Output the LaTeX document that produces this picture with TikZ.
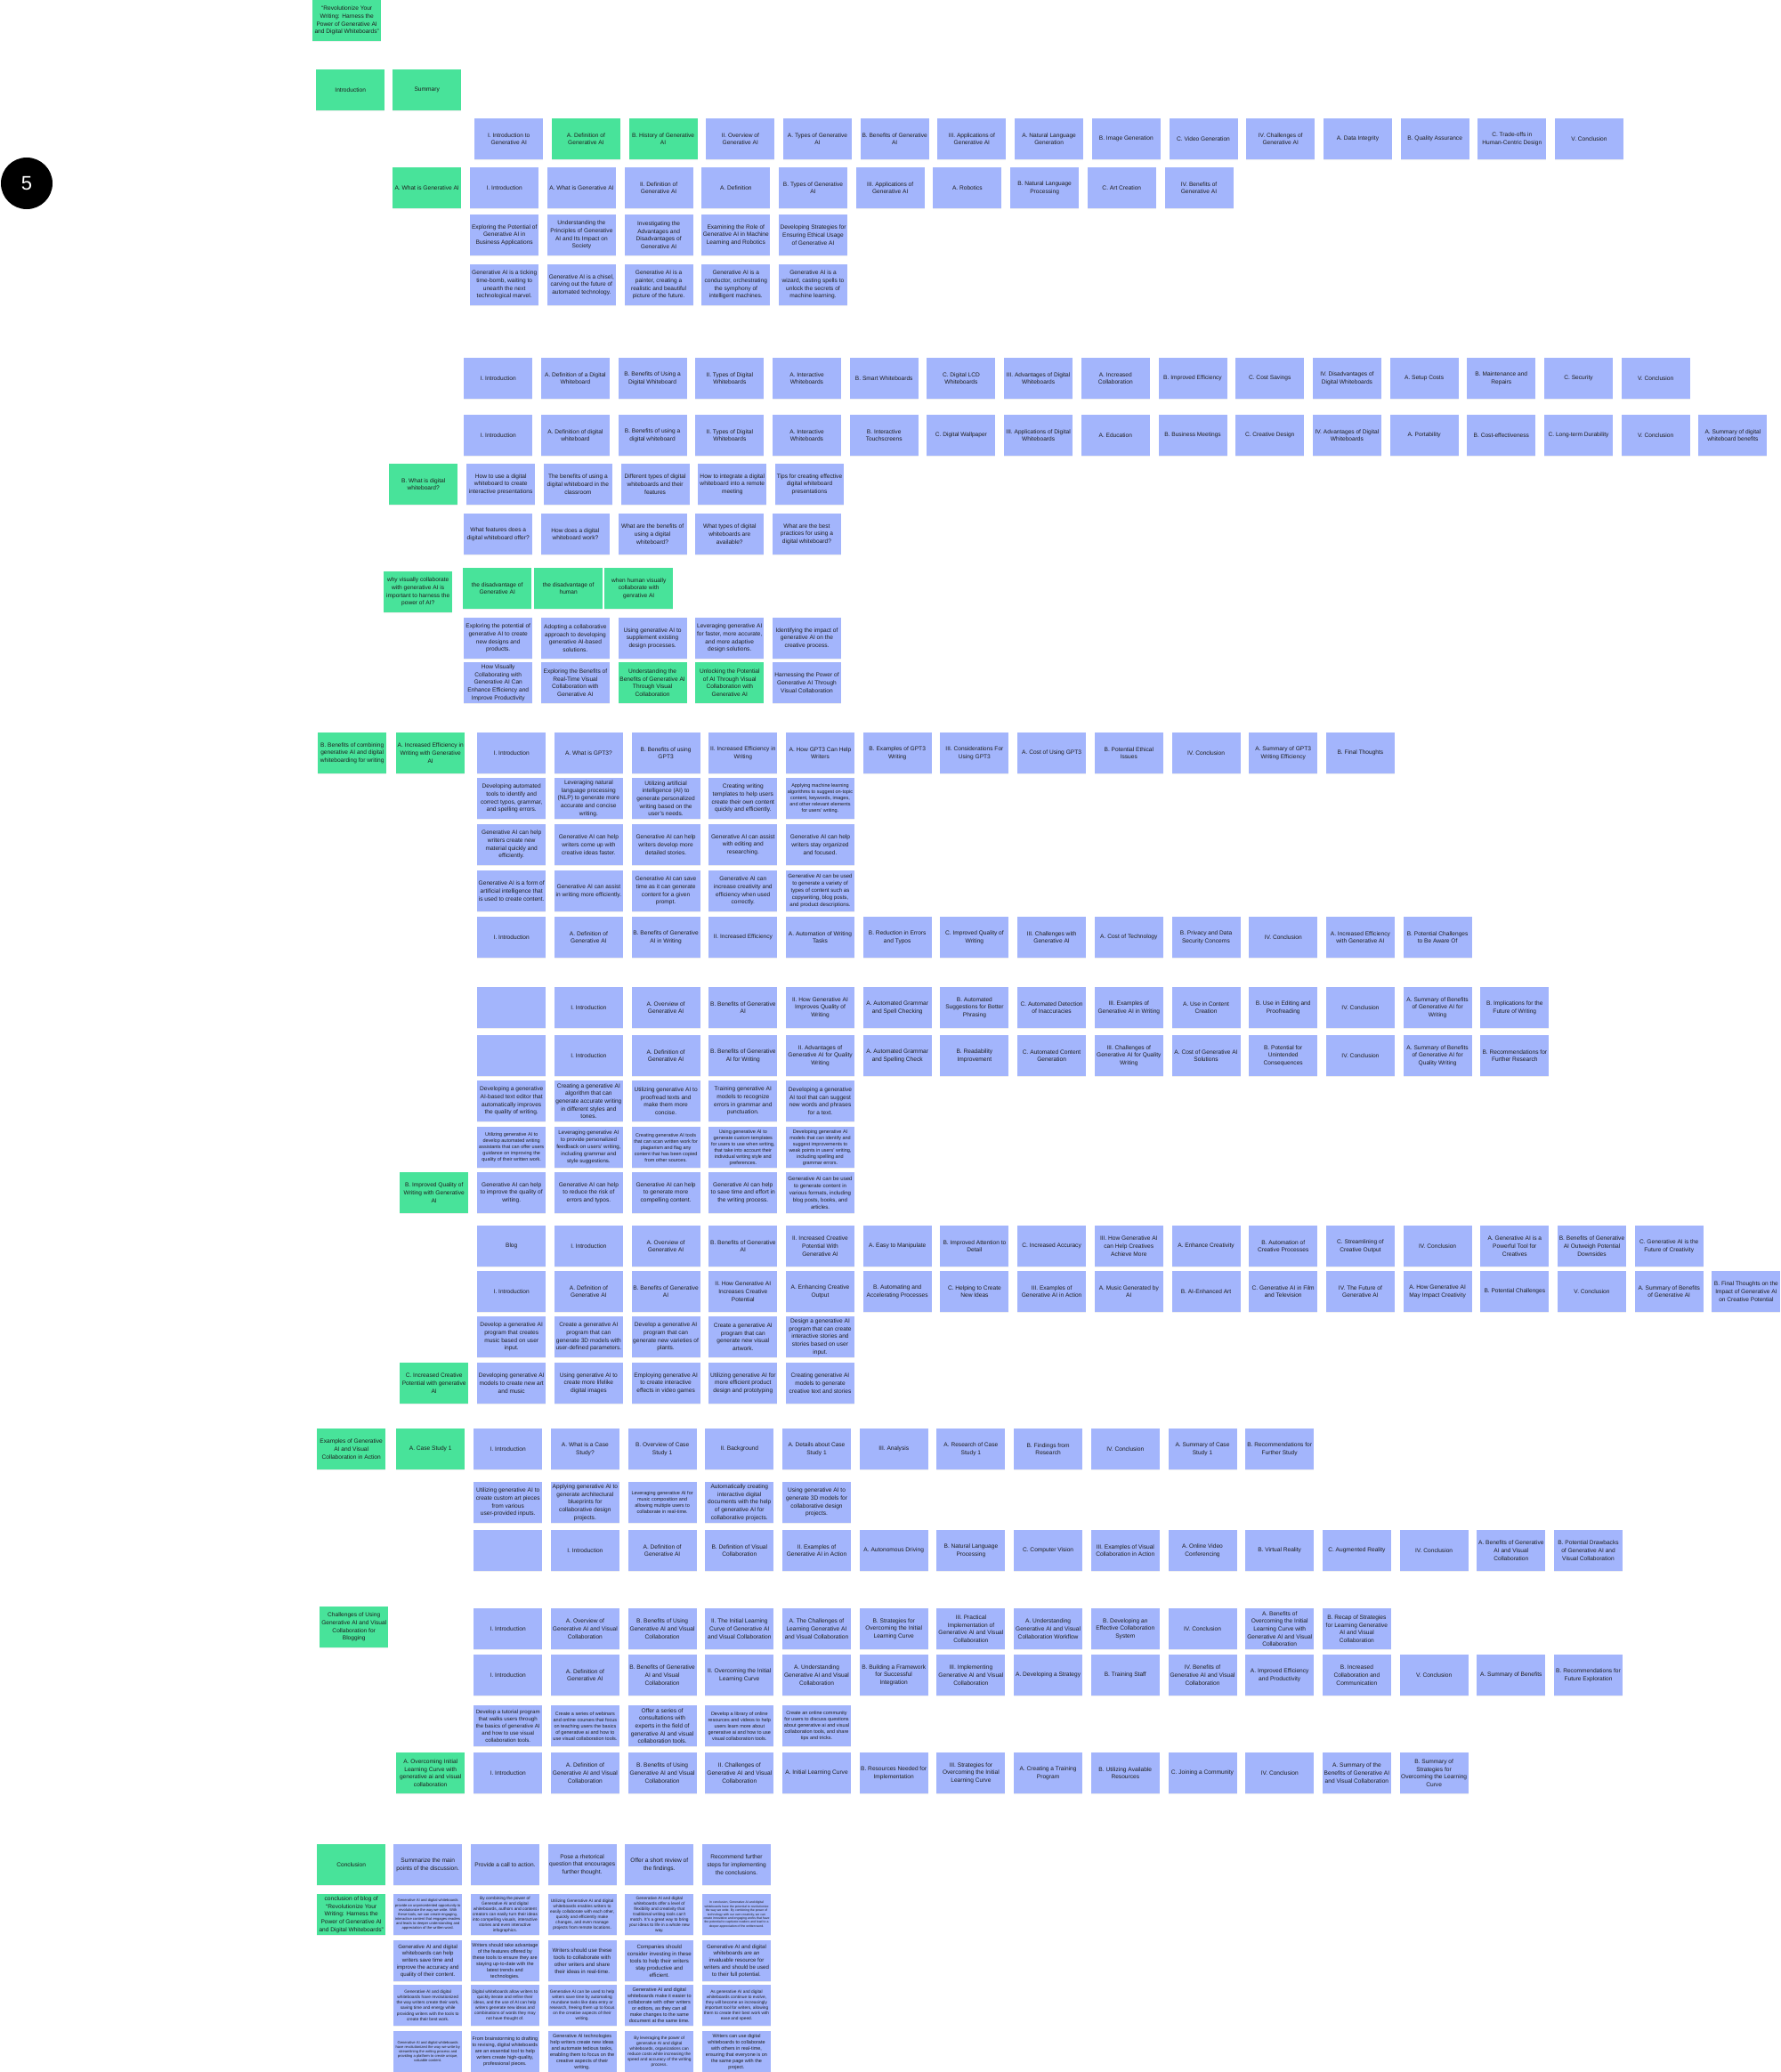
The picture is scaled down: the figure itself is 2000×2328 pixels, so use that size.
\documentclass[tikz,border=0pt]{standalone}
\usepackage{fontspec}
\setmainfont{Liberation Sans}
\usepackage{tikz}
\usetikzlibrary{shadows}
\definecolor{stickyblue}{HTML}{A3B5FC}
\definecolor{stickygreen}{HTML}{48E39A}
\definecolor{stickyink}{HTML}{1E1E1E}
\newcommand\colstep{86.7}
\tikzset{
  fsA/.style={font=\fontsize{6.6}{8.7}\selectfont\hyphenpenalty10000\relax},
  fsB/.style={font=\fontsize{6.1}{7.9}\selectfont\hyphenpenalty10000\relax},
  fsC/.style={font=\fontsize{5.5}{7}\selectfont\hyphenpenalty10000\relax},
  fsD/.style={font=\fontsize{4.8}{6.1}\selectfont\hyphenpenalty10000\relax},
  fsE/.style={font=\fontsize{4.1}{5.1}\selectfont\hyphenpenalty10000\relax},
  fsF/.style={font=\fontsize{3.5}{4.4}\selectfont\hyphenpenalty10000\relax},
  sticky/.style={anchor=north west, minimum width=77pt, minimum height=46pt,
    text width=74pt, inner xsep=1.5pt, inner ysep=0pt, align=flush center,
    text=stickyink, fsA,
    drop shadow={shadow xshift=0pt, shadow yshift=-1pt, opacity=.12}},
  blue sticky/.style={sticky, fill=stickyblue},
  green sticky/.style={sticky, fill=stickygreen},
}

\begin{document}
\begin{tikzpicture}[x=1pt,y=-1pt]
\fill[white] (0,0) rectangle (2000,2328);
\useasboundingbox (0,0) rectangle (2000,2328);
\node[circle, fill=black, minimum size=58pt, inner sep=0pt, text=white,
  font=\fontsize{22}{26}\selectfont] (pagemark) at (30,206) {5};

\node[green sticky] (title) at (351,0) {“Revolutionize Your Writing: Harness the Power of Generative AI and Digital Whiteboards”};
\node[green sticky] (intro) at (355,78) {Introduction};
\node[green sticky] (summary) at (441,78) {Summary};

\node[blue sticky] (gen1-0) at (533,133) {I. Introduction to Generative AI};
\foreach \txt [count=\i from 1] in {A. Definition of Generative AI, B. History of Generative AI}
  \node[green sticky] (gen1-\i) at (533+\i*\colstep,133) {\txt};
\foreach \txt [count=\i from 3] in {II. Overview of Generative AI, A. Types of Generative AI,
  B. Benefits of Generative AI, III. Applications of Generative AI, A. Natural Language Generation,
  B. Image Generation, C. Video Generation, IV. Challenges of Generative AI, A. Data Integrity,
  B. Quality Assurance, C. Trade-offs in Human-Centric Design, V. Conclusion}
  \node[blue sticky] (gen1-\i) at (533+\i*\colstep,133) {\txt};
\node[green sticky] (whatis) at (441,188) {A. What is Generative AI};
\foreach \txt [count=\i from 0] in {I. Introduction, A. What is Generative AI,
  II. Definition of Generative AI, A. Definition, B. Types of Generative AI,
  III. Applications of Generative AI, A. Robotics, B. Natural Language Processing,
  C. Art Creation, IV. Benefits of Generative AI}
  \node[blue sticky] (gen2-\i) at (528+\i*\colstep,188) {\txt};
\foreach \txt [count=\i from 0] in {Exploring the Potential of Generative AI in Business Applications,
  Understanding the Principles of Generative AI and Its Impact on Society,
  Investigating the Advantages and Disadvantages of Generative AI,
  Examining the Role of Generative AI in Machine Learning and Robotics,
  Developing Strategies for Ensuring Ethical Usage of Generative AI}
  \node[blue sticky] (gen3-\i) at (528+\i*\colstep,241) {\txt};
\foreach \txt [count=\i from 0] in {{Generative AI is a ticking time-bomb, waiting to unearth the next technological marvel.},
  {Generative AI is a chisel, carving out the future of automated technology.},
  {Generative AI is a painter, creating a realistic and beautiful picture of the future.},
  {Generative AI is a conductor, orchestrating the symphony of intelligent machines.},
  {Generative AI is a wizard, casting spells to unlock the secrets of machine learning.}}
  \node[blue sticky] (gen4-\i) at (528+\i*\colstep,297) {\txt};

\foreach \txt [count=\i from 0] in {I. Introduction, A. Definition of a Digital Whiteboard,
  B. Benefits of Using a Digital Whiteboard, II. Types of Digital Whiteboards,
  A. Interactive Whiteboards, B. Smart Whiteboards, C. Digital LCD Whiteboards,
  III. Advantages of Digital Whiteboards, A. Increased Collaboration, B. Improved Efficiency,
  C. Cost Savings, IV. Disadvantages of Digital Whiteboards, A. Setup Costs,
  B. Maintenance and Repairs, C. Security, V. Conclusion}
  \node[blue sticky] (board1-\i) at (521+\i*\colstep,402) {\txt};
\foreach \txt [count=\i from 0] in {I. Introduction, A. Definition of digital whiteboard,
  B. Benefits of using a digital whiteboard, II. Types of Digital Whiteboards,
  A. Interactive Whiteboards, B. Interactive Touchscreens, C. Digital Wallpaper,
  III. Applications of Digital Whiteboards, A. Education, B. Business Meetings,
  C. Creative Design, IV. Advantages of Digital Whiteboards, A. Portability,
  B. Cost-effectiveness, C. Long-term Durability, V. Conclusion,
  A. Summary of digital whiteboard benefits}
  \node[blue sticky] (board2-\i) at (521+\i*\colstep,466) {\txt};
\node[green sticky] (whatboard) at (437,521) {B. What is digital whiteboard?};
\foreach \txt [count=\i from 0] in {How to use a digital whiteboard to create interactive presentations,
  The benefits of using a digital whiteboard in the classroom,
  Different types of digital whiteboards and their features,
  How to integrate a digital whiteboard into a remote meeting,
  Tips for creating effective digital whiteboard presentations}
  \node[blue sticky] (board3-\i) at (524+\i*\colstep,521) {\txt};
\foreach \txt [count=\i from 0] in {What features does a digital whiteboard offer?,
  How does a digital whiteboard work?, What are the benefits of using a digital whiteboard?,
  What types of digital whiteboards are available?,
  What are the best practices for using a digital whiteboard?}
  \node[blue sticky] (board4-\i) at (521+\i*\colstep,577) {\txt};
\node[green sticky] (whyvisual) at (431,642) {why visually collaborate with generative AI is important to harness the power of AI?};
\node[green sticky] (disai) at (520,638) {the disadvantage of Generative AI};
\node[green sticky] (dishuman) at (600,638) {the disadvantage of human};
\node[green sticky] (whenhuman) at (679,638) {when human visually collaborate with genrative AI};
\foreach \txt [count=\i from 0] in {Exploring the potential of generative AI to create new designs and products.,
  Adopting a collaborative approach to developing generative AI-based solutions.,
  Using generative AI to supplement existing design processes.,
  {Leveraging generative AI for faster, more accurate, and more adaptive design solutions.},
  Identifying the impact of generative AI on the creative process.}
  \node[blue sticky] (board6-\i) at (521+\i*\colstep,694) {\txt};
\foreach \txt [count=\i from 0] in {How Visually Collaborating with Generative AI Can Enhance Efficiency and Improve Productivity,
  Exploring the Benefits of Real-Time Visual Collaboration with Generative AI}
  \node[blue sticky] (board7-\i) at (521+\i*\colstep,744) {\txt};
\foreach \txt [count=\i from 2] in {Understanding the Benefits of Generative AI Through Visual Collaboration,
  Unlocking the Potential of AI Through Visual Collaboration with Generative AI}
  \node[green sticky] (board7-\i) at (521+\i*\colstep,744) {\txt};
\node[blue sticky] (board7-4) at (521+4*\colstep,744) {Harnessing the Power of Generative AI Through Visual Collaboration};

\node[green sticky] (combining) at (357,823) {B. Benefits of combining generative AI and digital whiteboarding for writing};
\node[green sticky] (efficiency) at (445,823) {A. Increased Efficiency in Writing with Generative AI};
\foreach \txt [count=\i from 0] in {I. Introduction, A. What is GPT3?, B. Benefits of using GPT3,
  II. Increased Efficiency in Writing, A. How GPT3 Can Help Writers, B. Examples of GPT3 Writing,
  III. Considerations For Using GPT3, A. Cost of Using GPT3, B. Potential Ethical Issues,
  IV. Conclusion, A. Summary of GPT3 Writing Efficiency, B. Final Thoughts}
  \node[blue sticky] (gpt1-\i) at (536+\i*\colstep,823) {\txt};
\foreach \fs/\txt [count=\i from 0] in {fsA/{Developing automated tools to identify and correct typos, grammar, and spelling errors.},
  fsA/{Leveraging natural language processing (NLP) to generate more accurate and concise writing.},
  fsA/{Utilizing artificial intelligence (AI) to generate personalized writing based on the user's needs.},
  fsA/{Creating writing templates to help users create their own content quickly and efficiently.},
  fsC/{Applying machine learning algorithms to suggest on-topic content, keywords, images, and other relevant elements for users' writing.}}
  \node[blue sticky, \fs] (gpt2-\i) at (536+\i*\colstep,874) {\txt};
\foreach \txt [count=\i from 0] in {Generative AI can help writers create new material quickly and efficiently.,
  Generative AI can help writers come up with creative ideas faster.,
  Generative AI can help writers develop more detailed stories.,
  Generative AI can assist with editing and researching.,
  Generative AI can help writers stay organized and focused.}
  \node[blue sticky] (gpt3-\i) at (536+\i*\colstep,926) {\txt};
\foreach \fs/\txt [count=\i from 0] in {fsA/{Generative AI is a form of artificial intelligence that is used to create content.},
  fsA/{Generative AI can assist in writing more efficiently.},
  fsA/{Generative AI can save time as it can generate content for a given prompt.},
  fsA/{Generative AI can increase creativity and efficiency when used correctly.},
  fsB/{Generative AI can be used to generate a variety of types of content such as copywriting, blog posts, and product descriptions.}}
  \node[blue sticky, \fs] (gpt4-\i) at (536+\i*\colstep,978) {\txt};
\foreach \txt [count=\i from 0] in {I. Introduction, A. Definition of Generative AI,
  B. Benefits of Generative AI in Writing, II. Increased Efficiency, A. Automation of Writing Tasks,
  B. Reduction in Errors and Typos, C. Improved Quality of Writing, III. Challenges with Generative AI,
  A. Cost of Technology, B. Privacy and Data Security Concerns, IV. Conclusion,
  A. Increased Efficiency with Generative AI, B. Potential Challenges to Be Aware Of}
  \node[blue sticky] (gpt5-\i) at (536+\i*\colstep,1030) {\txt};

\node[blue sticky] (quality1-0) at (536,1109) {};
\foreach \txt [count=\i from 1] in {I. Introduction, A. Overview of Generative AI,
  B. Benefits of Generative AI, II. How Generative AI Improves Quality of Writing,
  A. Automated Grammar and Spell Checking, B. Automated Suggestions for Better Phrasing,
  C. Automated Detection of Inaccuracies, III. Examples of Generative AI in Writing,
  A. Use in Content Creation, B. Use in Editing and Proofreading, IV. Conclusion,
  A. Summary of Benefits of Generative AI for Writing, B. Implications for the Future of Writing}
  \node[blue sticky] (quality1-\i) at (536+\i*\colstep,1109) {\txt};
\node[blue sticky] (quality2-0) at (536,1163) {};
\foreach \txt [count=\i from 1] in {I. Introduction, A. Definition of Generative AI,
  B. Benefits of Generative AI for Writing, II. Advantages of Generative AI for Quality Writing,
  A. Automated Grammar and Spelling Check, B. Readability Improvement,
  C. Automated Content Generation, III. Challenges of Generative AI for Quality Writing,
  A. Cost of Generative AI Solutions, B. Potential for Unintended Consequences, IV. Conclusion,
  A. Summary of Benefits of Generative AI for Quality Writing, B. Recommendations for Further Research}
  \node[blue sticky] (quality2-\i) at (536+\i*\colstep,1163) {\txt};
\foreach \txt [count=\i from 0] in {Developing a generative AI-based text editor that automatically improves the quality of writing.,
  Creating a generative AI algorithm that can generate accurate writing in different styles and tones.,
  Utilizing generative AI to proofread texts and make them more concise.,
  Training generative AI models to recognize errors in grammar and punctuation.,
  Developing a generative AI tool that can suggest new words and phrases for a text.}
  \node[blue sticky] (quality3-\i) at (536+\i*\colstep,1214) {\txt};
\foreach \fs/\txt [count=\i from 0] in {fsC/{Utilizing generative AI to develop automated writing assistants that can offer users guidance on improving the quality of their written work.},
  fsB/{Leveraging generative AI to provide personalized feedback on users' writing, including grammar and style suggestions.},
  fsC/{Creating generative AI tools that can scan written work for plagiarism and flag any content that has been copied from other sources.},
  fsC/{Using generative AI to generate custom templates for users to use when writing, that take into account their individual writing style and preferences.},
  fsC/{Developing generative AI models that can identify and suggest improvements to weak points in users' writing, including spelling and grammar errors.}}
  \node[blue sticky, \fs] (quality4-\i) at (536+\i*\colstep,1266) {\txt};
\node[green sticky] (improved) at (449,1317) {B. Improved Quality of Writing with Generative AI};
\foreach \fs/\txt [count=\i from 0] in {fsA/{Generative AI can help to improve the quality of writing.},
  fsA/{Generative AI can help to reduce the risk of errors and typos.},
  fsA/{Generative AI can help to generate more compelling content.},
  fsA/{Generative AI can help to save time and effort in the writing process.},
  fsB/{Generative AI can be used to generate content in various formats, including blog posts, books, and articles.}}
  \node[blue sticky, \fs] (quality5-\i) at (536+\i*\colstep,1317) {\txt};

\foreach \txt [count=\i from 0] in {Blog, I. Introduction, A. Overview of Generative AI,
  B. Benefits of Generative AI, II. Increased Creative Potential With Generative AI,
  A. Easy to Manipulate, B. Improved Attention to Detail, C. Increased Accuracy,
  III. How Generative AI can Help Creatives Achieve More, A. Enhance Creativity,
  B. Automation of Creative Processes, C. Streamlining of Creative Output, IV. Conclusion,
  A. Generative AI is a Powerful Tool for Creatives,
  B. Benefits of Generative AI Outweigh Potential Downsides,
  C. Generative AI is the Future of Creativity}
  \node[blue sticky] (creative1-\i) at (536+\i*\colstep,1377) {\txt};
\foreach \txt [count=\i from 0] in {I. Introduction, A. Definition of Generative AI,
  B. Benefits of Generative AI, II. How Generative AI Increases Creative Potential,
  A. Enhancing Creative Output, B. Automating and Accelerating Processes,
  C. Helping to Create New Ideas, III. Examples of Generative AI in Action,
  A. Music Generated by AI, B. AI-Enhanced Art, C. Generative AI in Film and Television,
  IV. The Future of Generative AI, A. How Generative AI May Impact Creativity,
  B. Potential Challenges, V. Conclusion, A. Summary of Benefits of Generative AI,
  B. Final Thoughts on the Impact of Generative AI on Creative Potential}
  \node[blue sticky] (creative2-\i) at (536+\i*\colstep,1428) {\txt};
\foreach \txt [count=\i from 0] in {Develop a generative AI program that creates music based on user input.,
  Create a generative AI program that can generate 3D models with user-defined parameters.,
  Develop a generative AI program that can generate new varieties of plants.,
  Create a generative AI program that can generate new visual artwork.,
  Design a generative AI program that can create interactive stories and stories based on user input.}
  \node[blue sticky] (creative3-\i) at (536+\i*\colstep,1479) {\txt};
\node[green sticky] (increased) at (449,1531) {C. Increased Creative Potential with generative AI};
\foreach \txt [count=\i from 0] in {Developing generative AI models to create new art and music,
  Using generative AI to create more lifelike digital images,
  Employing generative AI to create interactive effects in video games,
  Utilizing generative AI for more efficient product design and prototyping,
  Creating generative AI models to generate creative text and stories}
  \node[blue sticky] (creative4-\i) at (536+\i*\colstep,1531) {\txt};

\node[green sticky] (examples) at (356,1605) {Examples of Generative AI and Visual Collaboration in Action};
\node[green sticky] (casestudy) at (445,1605) {A. Case Study 1};
\foreach \txt [count=\i from 0] in {I. Introduction, A. What is a Case Study?,
  B. Overview of Case Study 1, II. Background, A. Details about Case Study 1, III. Analysis,
  A. Research of Case Study 1, B. Findings from Research, IV. Conclusion,
  A. Summary of Case Study 1, B. Recommendations for Further Study}
  \node[blue sticky] (case1-\i) at (532+\i*\colstep,1605) {\txt};
\foreach \fs/\txt [count=\i from 0] in {fsA/{Utilizing generative AI to create custom art pieces from various user-provided inputs.},
  fsA/{Applying generative AI to generate architectural blueprints for collaborative design projects.},
  fsC/{Leveraging generative AI for music composition and allowing multiple users to collaborate in real-time.},
  fsA/{Automatically creating interactive digital documents with the help of generative AI for collaborative projects.},
  fsA/{Using generative AI to generate 3D models for collaborative design projects.}}
  \node[blue sticky, \fs] (case2-\i) at (532+\i*\colstep,1665) {\txt};
\node[blue sticky] (case3-0) at (532,1719) {};
\foreach \txt [count=\i from 1] in {I. Introduction, A. Definition of Generative AI,
  B. Definition of Visual Collaboration, II. Examples of Generative AI in Action,
  A. Autonomous Driving, B. Natural Language Processing, C. Computer Vision,
  III. Examples of Visual Collaboration in Action, A. Online Video Conferencing,
  B. Virtual Reality, C. Augmented Reality, IV. Conclusion,
  A. Benefits of Generative AI and Visual Collaboration,
  B. Potential Drawbacks of Generative AI and Visual Collaboration}
  \node[blue sticky] (case3-\i) at (532+\i*\colstep,1719) {\txt};

\node[green sticky] (challenges) at (359,1805) {Challenges of Using Generative AI and Visual Collaboration for Blogging};
\foreach \txt [count=\i from 0] in {I. Introduction, A. Overview of Generative AI and Visual Collaboration,
  B. Benefits of Using Generative AI and Visual Collaboration,
  II. The Initial Learning Curve of Generative AI and Visual Collaboration,
  A. The Challenges of Learning Generative AI and Visual Collaboration,
  B. Strategies for Overcoming the Initial Learning Curve,
  III. Practical Implementation of Generative AI and Visual Collaboration,
  A. Understanding Generative AI and Visual Collaboration Workflow,
  B. Developing an Effective Collaboration System, IV. Conclusion,
  A. Benefits of Overcoming the Initial Learning Curve with Generative AI and Visual Collaboration,
  B. Recap of Strategies for Learning Generative AI and Visual Collaboration}
  \node[blue sticky] (blog1-\i) at (532+\i*\colstep,1807) {\txt};
\foreach \txt [count=\i from 0] in {I. Introduction, A. Definition of Generative AI,
  B. Benefits of Generative AI and Visual Collaboration, II. Overcoming the Initial Learning Curve,
  A. Understanding Generative AI and Visual Collaboration,
  B. Building a Framework for Successful Integration,
  III. Implementing Generative AI and Visual Collaboration, A. Developing a Strategy,
  B. Training Staff, IV. Benefits of Generative AI and Visual Collaboration,
  A. Improved Efficiency and Productivity, B. Increased Collaboration and Communication,
  V. Conclusion, A. Summary of Benefits, B. Recommendations for Future Exploration}
  \node[blue sticky] (blog2-\i) at (532+\i*\colstep,1859) {\txt};
\foreach \fs/\txt [count=\i from 0] in {fsB/{Develop a tutorial program that walks users through the basics of generative AI and how to use visual collaboration tools.},
  fsC/{Create a series of webinars and online courses that focus on teaching users the basics of generative ai and how to use visual collaboration tools.},
  fsA/{Offer a series of consultations with experts in the field of generative AI and visual collaboration tools.},
  fsC/{Develop a library of online resources and videos to help users learn more about generative ai and how to use visual collaboration tools.},
  fsC/{Create an online community for users to discuss questions about generative ai and visual collaboration tools, and share tips and tricks.}}
  \node[blue sticky, \fs] (blog3-\i) at (532+\i*\colstep,1916) {\txt};
\node[green sticky] (overcoming) at (445,1969) {A. Overcoming Initial Learning Curve with generative ai and visual collaboration};
\foreach \txt [count=\i from 0] in {I. Introduction, A. Definition of Generative AI and Visual Collaboration,
  B. Benefits of Using Generative AI and Visual Collaboration,
  II. Challenges of Generative AI and Visual Collaboration, A. Initial Learning Curve,
  B. Resources Needed for Implementation,
  III. Strategies for Overcoming the Initial Learning Curve, A. Creating a Training Program,
  B. Utilizing Available Resources, C. Joining a Community, IV. Conclusion,
  A. Summary of the Benefits of Generative AI and Visual Collaboration,
  B. Summary of Strategies for Overcoming the Learning Curve}
  \node[blue sticky] (blog4-\i) at (532+\i*\colstep,1969) {\txt};

\node[green sticky] (conclusion) at (356,2072) {Conclusion};
\foreach \txt [count=\i from 0] in {Summarize the main points of the discussion.,
  Provide a call to action., Pose a rhetorical question that encourages further thought.,
  Offer a short review of the findings., Recommend further steps for implementing the conclusions.}
  \node[blue sticky] (wrap1-\i) at (442+\i*\colstep,2072) {\txt};
\node[green sticky] (blogend) at (356,2128) {conclusion of blog of “Revolutionize Your Writing: Harness the Power of Generative AI and Digital Whiteboards”};
\foreach \fs/\txt [count=\i from 0] in {fsE/{Generative AI and digital whiteboards provide an unprecedented opportunity to revolutionize the way we write. With these tools, we can create engaging, interactive content that engages readers and leads to deeper understanding and appreciation of the written word.},
  fsD/{By combining the power of Generative AI and digital whiteboards, authors and content creators can easily turn their ideas into compelling visuals, interactive stories and even interactive infographics.},
  fsD/{Utilizing Generative AI and digital whiteboards enables writers to easily collaborate with each other, quickly and efficiently make changes, and even manage projects from remote locations.},
  fsD/{Generative AI and digital whiteboards offer a level of flexibility and creativity that traditional writing tools can't match. It's a great way to bring your ideas to life in a whole new way.},
  fsF/{In conclusion, Generative AI and digital whiteboards have the potential to revolutionize the way we write. By combining the power of technology with our own creativity, we can create innovative and engaging works that have the potential to captivate readers and lead to a deeper appreciation of the written word.}}
  \node[blue sticky, \fs] (wrap2-\i) at (442+\i*\colstep,2128) {\txt};
\foreach \fs/\txt [count=\i from 0] in {fsB/{Generative AI and digital whiteboards can help writers save time and improve the accuracy and quality of their content.},
  fsC/{Writers should take advantage of the features offered by these tools to ensure they are staying up-to-date with the latest trends and technologies.},
  fsB/{Writers should use these tools to collaborate with other writers and share their ideas in real-time.},
  fsB/{Companies should consider investing in these tools to help their writers stay productive and efficient.},
  fsB/{Generative AI and digital whiteboards are an invaluable resource for writers and should be used to their full potential.}}
  \node[blue sticky, \fs] (wrap3-\i) at (442+\i*\colstep,2180) {\txt};
\foreach \fs/\txt [count=\i from 0] in {fsD/{Generative AI and digital whiteboards have revolutionized the way writers create their work, saving time and energy while providing writers with the tools to create their best work.},
  fsD/{Digital whiteboards allow writers to quickly iterate and refine their ideas, and the use of AI can help writers generate new ideas and combinations of words they may not have thought of.},
  fsD/{Generative AI can be used to help writers save time by automating mundane tasks like data entry or research, freeing them up to focus on the creative aspects of their writing.},
  fsC/{Generative AI and digital whiteboards make it easier to collaborate with other writers or editors, as they can all make changes to the same document at the same time.},
  fsD/{As generative AI and digital whiteboards continue to evolve, they will become an increasingly important tool for writers, allowing them to create their best work with ease and speed.}}
  \node[blue sticky, \fs] (wrap4-\i) at (442+\i*\colstep,2230) {\txt};
\foreach \fs/\txt [count=\i from 0] in {fsE/{Generative AI and digital whiteboards have revolutionized the way we write by streamlining the writing process and providing a platform to create unique, valuable content.},
  fsC/{From brainstorming to drafting to revising, digital whiteboards are an essential tool to help writers create high-quality, professional pieces.},
  fsC/{Generative AI technologies help writers create new ideas and automate tedious tasks, enabling them to focus on the creative aspects of their writing.},
  fsD/{By leveraging the power of generative AI and digital whiteboards, organizations can reduce costs while increasing the speed and accuracy of the writing process.},
  fsC/{Writers can use digital whiteboards to collaborate with others in real-time, ensuring that everyone is on the same page with the project.}}
  \node[blue sticky, \fs] (wrap5-\i) at (442+\i*\colstep,2282) {\txt};
\end{tikzpicture}
\end{document}
